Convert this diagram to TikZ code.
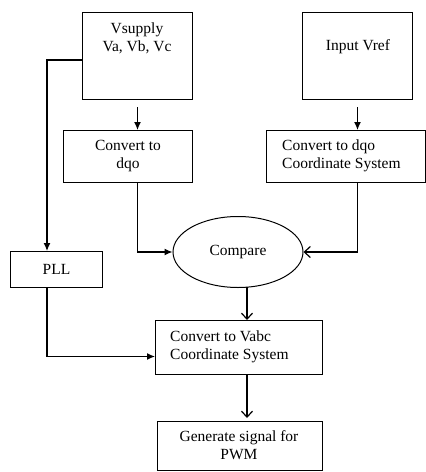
\documentclass[tikz,border=0pt]{standalone}
\usepackage{fontspec}
\setmainfont{Liberation Serif}
\usetikzlibrary{calc, shapes.geometric, arrows.meta}

\begin{document}
\begin{tikzpicture}[x=1pt, y=-1pt,
  box/.style={draw, line width=1pt, anchor=north west, inner sep=0pt},
  txt/.style={font=\fontsize{15.5}{18}\selectfont, inner sep=0pt, align=center},
  fill arrow/.style={-{Latex[length=8pt,width=7pt]}, line width=1.2pt},
  open arrow/.style={-{Straight Barb[length=6pt,width=11pt]}, line width=1.2pt}]
  \useasboundingbox (0,0) rectangle (426,472);

  % Draw the boxes
  \node[box, minimum width=110pt, minimum height=87pt] (vsupply) at (82,12) {};
  \node[box, minimum width=110pt, minimum height=87pt] (vref) at (302,12) {};
  \node[box, minimum width=129pt, minimum height=52pt] (dqoa) at (63,130) {};
  \node[box, minimum width=159pt, minimum height=52pt] (dqob) at (266,130) {};
  \node[box, minimum width=92pt, minimum height=36pt] (pll) at (10,251) {};
  \node[box, minimum width=167pt, minimum height=54pt] (vabc) at (155,320) {};
  \node[box, minimum width=165pt, minimum height=49pt] (pwm) at (157,421) {};
  \node[draw, ellipse, line width=1pt, minimum width=130pt, minimum height=71pt,
    txt] (compare) at (238,252) {Compare};

  % Label the boxes
  \node[txt] (vsupplytext) at (137,38) {Vsupply\\Va, Vb, Vc};
  \node[txt] (vreftext) at (358,47) {Input Vref};
  \node[txt] (dqoatext) at (128,156) {Convert to\\dqo};
  \node[txt, align=left, anchor=west] (dqobtext) at (282,156) {Convert to dqo\\Coordinate System};
  \node[txt] (plltext) at (pll.center) {PLL};
  \node[txt, align=left, anchor=west] (vabctext) at (170,347) {Convert to Vabc\\Coordinate System};
  \node[txt] (pwmtext) at (239,445) {Generate signal for\\PWM};

  % Draw the connectors
  \coordinate (pllin) at (47,251);
  \draw[fill arrow] ([yshift=-4pt]vsupply.west) -| (pllin);
  \draw[fill arrow] ([yshift=-7pt]vsupply.south) -- (dqoa.north -| vsupply.south);
  \draw[fill arrow] ([yshift=-7pt]vref.south) -- (dqob.north -| vref.south);
  \draw[fill arrow] (dqoa.south -| vsupply.south) |- (compare.west);
  \draw[open arrow] (dqob.south -| vref.south) |- (compare.east);
  \draw[fill arrow] (pllin |- pll.south) |- ([yshift=-9pt]vabc.west);
  \draw[open arrow] ([xshift=9pt,yshift=1pt]compare.south) -- ([xshift=9pt]compare.south |- vabc.north);
  \draw[open arrow] ([xshift=9pt]compare.south |- vabc.south) -- ([xshift=9pt,yshift=3pt]compare.south |- pwm.north);
\end{tikzpicture}
\end{document}
